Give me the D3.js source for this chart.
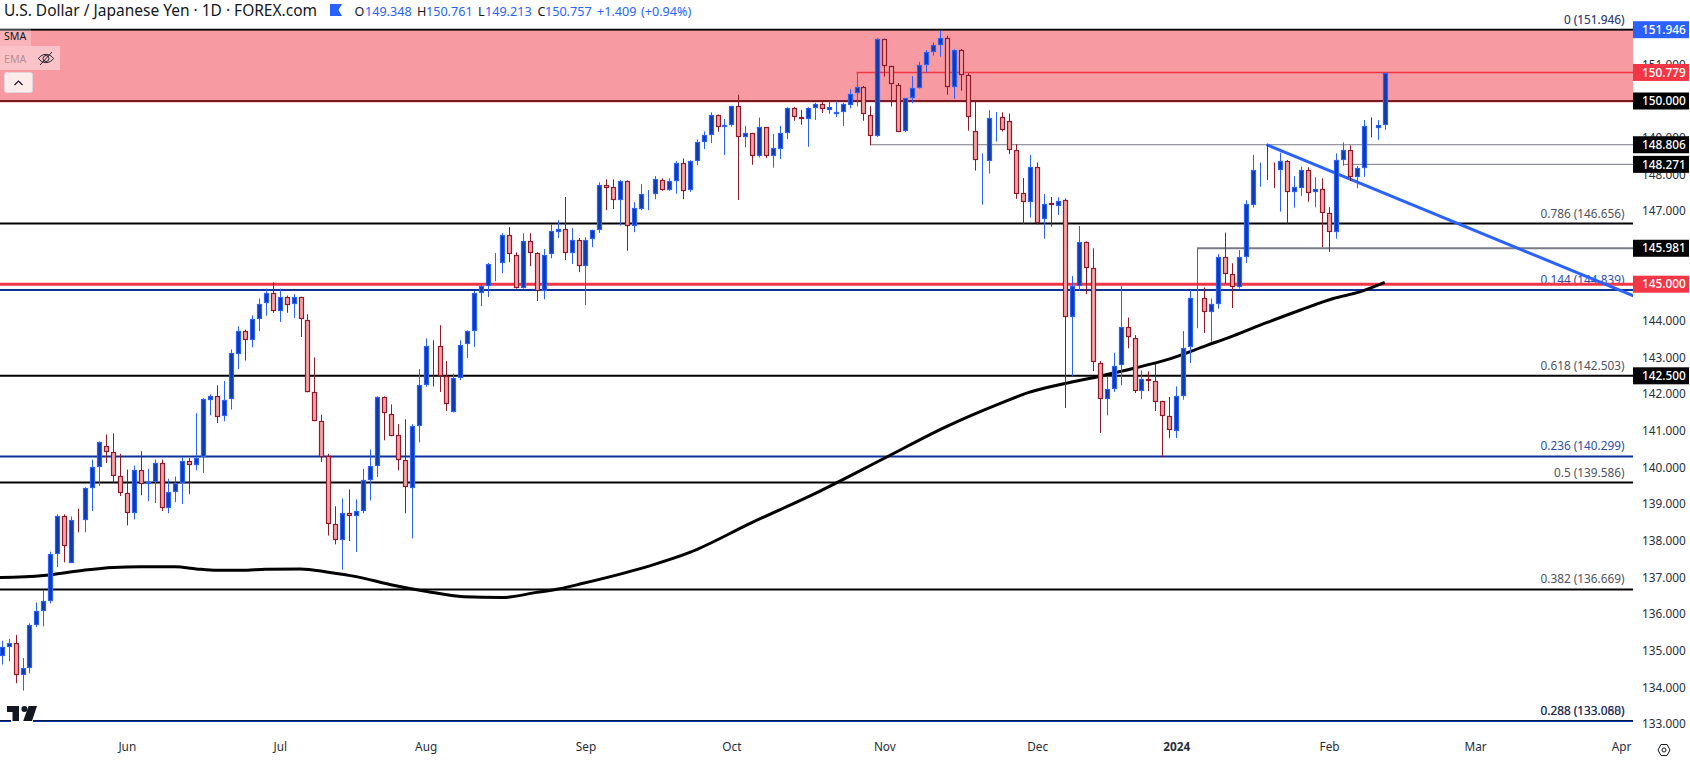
<!DOCTYPE html>
<html>
<head>
<meta charset="utf-8">
<script src="https://cdnjs.cloudflare.com/ajax/libs/d3/7.8.5/d3.min.js"></script>
<style>
body { margin: 0; background: #fff; overflow: hidden; }
text { font-family: "Noto Sans", sans-serif; }
</style>
</head>
<body>
<div id="chart-container"></div>
<script>
// daily bars, open high low close
var bars = [
[134.84,135.27,134.62,135.09],[135.09,135.32,134.71,135.21],[135.21,135.43,134.11,134.34],[134.34,134.80,133.91,134.53],[134.52,135.74,134.38,135.70],
[135.70,136.31,135.64,136.07],[136.08,136.66,135.66,136.35],[136.36,137.70,136.29,137.64],[137.64,138.72,137.28,138.68],[138.68,138.72,137.41,137.86],
[137.40,138.66,137.40,138.57],[138.58,138.87,138.23,138.56],[138.57,139.46,138.23,139.44],[139.44,140.21,138.81,140.02],[140.02,140.71,139.49,140.69],
[140.59,140.90,140.12,140.43],[140.43,140.93,139.57,139.77],[139.77,140.37,139.22,139.31],[139.31,139.94,138.42,138.76],[138.76,140.05,138.58,139.94],
[139.94,140.44,139.24,139.55],[139.55,139.96,139.08,139.61],[139.60,140.21,139.03,140.13],[140.13,140.21,138.81,138.89],[138.90,139.69,138.75,139.34],
[139.34,139.75,139.05,139.58],[139.58,140.28,139.00,140.18],[140.18,140.26,139.27,140.07],[140.07,141.48,139.92,140.26],[140.27,141.89,139.85,141.86],
[141.84,141.99,141.42,141.96],[141.96,142.24,141.21,141.40],[141.40,142.36,141.26,141.85],[141.85,143.22,141.58,143.11],[143.10,143.85,142.68,143.73],
[143.73,143.76,142.92,143.49],[143.48,144.15,143.28,144.06],[144.05,144.61,143.72,144.47],[144.47,144.88,144.14,144.75],[144.75,145.05,144.22,144.27],
[144.27,144.88,143.97,144.66],[144.66,144.69,144.22,144.44],[144.44,144.73,144.08,144.64],[144.64,144.66,143.56,144.03],[144.03,144.18,142.05,142.07],
[142.07,143.00,141.26,141.28],[141.28,141.44,140.15,140.31],[140.31,140.37,138.14,138.46],[138.46,138.94,137.90,138.02],[138.02,139.15,137.21,138.76],
[138.76,139.40,137.99,138.67],[138.67,139.13,137.69,138.81],[138.81,139.96,138.75,139.66],[139.66,140.49,139.10,140.05],[140.05,141.94,139.74,141.92],
[141.92,141.94,140.74,141.47],[141.47,141.72,140.85,140.88],[140.88,141.18,139.92,140.21],[140.21,141.31,138.75,139.46],[139.46,141.18,138.06,141.14],
[141.14,142.68,140.68,142.25],[142.25,143.52,142.20,143.32],[143.33,143.47,142.21,143.31],[143.30,143.88,142.06,142.49],[142.49,142.90,141.54,141.73],
[141.52,142.56,141.50,142.45],[142.45,143.47,142.38,143.35],[143.35,143.74,142.99,143.71],[143.71,144.82,143.29,144.75],[144.74,145.00,144.40,144.94],
[144.93,145.58,144.65,145.54],[145.55,145.85,145.08,145.58],[145.57,146.39,145.30,146.33],[146.33,146.56,145.60,145.80],[145.80,145.87,144.88,144.90],
[144.90,146.39,144.88,146.19],[146.19,146.39,145.49,145.86],[145.86,145.87,144.54,144.83],[144.83,145.96,144.59,145.81],[145.81,146.64,145.71,146.44],
[146.43,146.75,146.26,146.52],[146.52,147.38,145.66,145.86],[145.86,146.53,145.55,146.22],[146.22,146.26,145.33,145.50],[145.50,146.28,144.43,146.22],
[146.22,146.49,146.01,146.47],[146.46,147.78,146.40,147.70],[147.70,147.86,147.02,147.63],[147.64,147.86,147.05,147.29],[147.28,147.84,146.60,147.81],
[147.81,147.83,145.91,146.57],[146.57,147.24,146.42,147.07],[147.05,147.73,147.02,147.45],[147.45,147.57,147.02,147.46],[147.44,147.95,147.32,147.86],
[147.84,147.89,147.55,147.58],[147.58,147.89,147.55,147.83],[147.82,148.36,147.47,148.32],[148.32,148.43,147.32,147.55],[147.55,148.38,147.52,148.35],
[148.34,148.95,148.25,148.87],[148.86,149.17,148.69,149.06],[149.06,149.69,148.85,149.61],[149.61,149.63,149.16,149.28],[149.28,149.51,148.53,149.34],
[149.33,149.87,149.30,149.85],[149.85,150.17,147.30,149.00],[149.00,149.32,148.74,149.12],[149.12,149.13,148.26,148.48],[148.48,149.55,148.46,149.28],
[149.28,149.29,148.44,148.48],[148.48,149.10,148.18,148.71],[148.70,149.32,148.42,149.14],[149.13,149.83,148.96,149.80],[149.80,149.84,149.46,149.55],
[149.55,149.76,149.35,149.49],[149.49,149.83,148.75,149.80],[149.80,149.95,149.48,149.91],[149.91,149.97,149.67,149.76],[149.76,149.99,149.65,149.83],
[149.63,149.99,149.56,149.69],[149.69,149.95,149.32,149.91],[149.91,150.32,149.80,150.20],[150.20,150.78,149.85,150.37],[150.37,150.41,149.46,149.63],
[149.63,149.86,148.79,149.06],[149.04,151.72,149.02,151.69],[151.69,151.70,150.67,150.95],[150.95,150.96,149.85,150.45],[150.45,150.49,149.15,149.17],
[149.17,150.08,149.15,150.07],[150.07,150.68,149.94,150.35],[150.35,151.07,150.34,150.98],[150.98,151.39,150.78,151.33],[151.33,151.60,151.24,151.52],
[151.52,151.92,151.21,151.71],[151.71,151.78,150.17,150.37],[150.37,151.41,150.06,151.39],[151.39,151.42,150.28,150.72],[150.72,150.76,149.19,149.57],
[149.17,149.98,148.10,148.37],[148.36,148.57,147.17,148.38],[148.37,149.75,148.02,149.53],[149.54,149.70,148.89,149.56],[149.55,149.69,149.17,149.19],
[149.45,149.66,148.55,148.67],[148.67,148.82,147.33,147.48],[147.48,147.90,146.65,147.23],[147.23,148.53,146.82,148.19],[148.19,148.32,146.63,146.65],
[146.79,147.46,146.24,147.20],[147.21,147.38,146.57,147.15],[147.15,147.37,146.89,147.28],[147.29,147.34,141.62,144.11],[144.11,145.22,142.49,144.95],
[144.94,146.59,144.82,146.14],[146.14,146.17,144.73,145.42],[145.43,145.98,142.63,142.86],[142.86,142.90,140.94,141.88],[141.88,142.47,141.42,142.15],
[142.15,143.13,142.06,142.78],[142.78,144.95,142.24,143.82],[143.82,144.09,143.25,143.54],[143.54,143.61,142.03,142.10],[142.10,142.65,141.86,142.42],
[142.42,142.62,142.08,142.37],[142.37,142.83,141.54,141.80],[141.80,141.82,140.28,141.39],[141.39,141.92,140.80,141.00],[141.00,142.21,140.80,141.96],
[141.96,143.72,141.85,143.27],[143.27,144.84,142.85,144.61],[144.60,145.98,143.80,144.62],[144.61,144.91,143.67,144.23],[144.23,144.61,143.43,144.45],
[144.45,145.82,144.33,145.73],[145.73,146.41,145.02,145.27],[145.27,145.57,144.35,144.91],[144.91,145.93,144.88,145.73],[145.73,147.29,145.58,147.18],
[147.18,148.53,147.09,148.13],[148.12,148.32,147.66,148.14],[148.14,148.81,147.84,148.12],[148.14,148.32,147.62,148.12],[148.10,148.59,146.98,148.35],
[148.35,148.39,146.66,147.51],[147.51,147.95,147.09,147.64],[147.64,148.21,147.41,148.13],[148.13,148.19,147.25,147.50],[147.50,147.92,147.10,147.59],
[147.59,147.89,146.01,146.93],[146.93,147.10,145.88,146.41],[146.41,148.57,146.24,148.38],[148.38,148.87,148.23,148.65],[148.65,148.79,147.82,147.91],
[147.91,148.23,147.62,148.16],[148.16,149.48,147.93,149.31],[149.32,149.55,149.01,149.30],[149.28,149.48,148.94,149.35],[149.348,150.761,149.213,150.757]
];

var sma = [
[-1,136.99],[6,137.05],[7.4,137.08],[12,137.20],[16,137.27],[20,137.29],[25,137.29],[28,137.23],[31,137.19],[34.5,137.19],[38,137.22],[43,137.23],[47,137.14],
[51,137.02],[56,136.80],[61,136.62],[66.5,136.47],[72,136.45],[77,136.59],[80.3,136.69],[83.5,136.83],[93,137.30],[99,137.68],[108,138.50],[117.6,139.34],[127,140.25],[136,141.12],
[143.6,141.74],[147.7,142.04],[153,142.29],[158,142.49],[162.8,142.70],[167.7,142.94],[173.4,143.33],[177.2,143.59],[182,143.95],[186.8,144.29],[191.6,144.61],[195.4,144.79],[199,145.05]
];

var months = {18:"Jun",40:"Jul",61:"Aug",84:"Sep",105:"Oct",127:"Nov",149:"Dec",169:"2024",191:"Feb",212:"Mar",233:"Apr"};

// price, from bar, colour, width
var levels = [
{p:151.946,from:-3,c:"#000",w:2},
{p:150,from:-3,c:"#000",w:2},
{p:146.656,from:-3,c:"#000",w:2},
{p:142.5,from:-3,c:"#000",w:2},
{p:139.586,from:-3,c:"#000",w:2},
{p:136.669,from:-3,c:"#000",w:2},
{p:133.08,from:-3,c:"#000",w:2},
{p:133.07,from:-3,c:"#0c3299",w:1.5},
{p:144.839,from:-3,c:"#0c3299",w:2},
{p:140.299,from:-3,c:"#0c3299",w:2},
{p:150.779,from:123,c:"#f23645",w:1.5},
{p:148.806,from:125,c:"#787b86",w:1},
{p:148.271,from:193,c:"#787b86",w:1},
{p:145.981,from:172,c:"#787b86",w:2},
{p:145,from:-3,c:"#f23645",w:3}
];

var fibs = [
{t:"0 (151.946)",p:151.946,c:"#50535e"},
{t:"0 (151.946)",p:151.946,c:"#0c3299",o:0.5},
{t:"0.786 (146.656)",p:146.656,c:"#50535e"},
{t:"0.144 (144.839)",p:144.839,c:"#2d4fa8"},
{t:"0.618 (142.503)",p:142.503,c:"#50535e"},
{t:"0.236 (140.299)",p:140.299,c:"#2d4fa8"},
{t:"0.5 (139.586)",p:139.586,c:"#50535e"},
{t:"0.382 (136.669)",p:136.669,c:"#50535e"},
{t:"0.288 (133.088)",p:133.08,c:"#2d4fa8"},
{t:"0.288 (133.060)",p:133.08,c:"#1e222d",o:0.8}
];

var badges = [
{p:151.946,c:"#2962ff"},{p:150.779,c:"#f23645"},{p:150,c:"#000"},{p:148.806,c:"#000"},
{p:148.271,c:"#000"},{p:145.981,c:"#000"},{p:145,c:"#f23645"},{p:142.5,c:"#000"}
];

var width = 1690, height = 761, plotRight = 1633, plotBottom = 737;

var svg = d3.select("#chart-container").append("svg")
    .attr("width", width)
    .attr("height", height)
    .style("display", "block");

var x = d3.scaleLinear().domain([0, 233]).range([1.7, 1621]);
var y = d3.scaleLinear().domain([150, 133]).range([101, 723.9]);

svg.append("clipPath").attr("id", "plot")
    .append("rect").attr("width", plotRight).attr("height", plotBottom);
var plot = svg.append("g").attr("clip-path", "url(#plot)");

// fib labels go under the lines
plot.selectAll(".fib").data(fibs).enter().append("text")
    .attr("x", 1624.5)
    .attr("y", d => y(d.p) - 6)
    .attr("text-anchor", "end")
    .attr("font-size", 11.8)
    .attr("fill", d => d.c)
    .attr("opacity", d => d.o || 1)
    .text(d => d.t);

plot.selectAll(".level").data(levels).enter().append("line")
    .attr("x1", d => x(d.from))
    .attr("x2", plotRight)
    .attr("y1", d => y(d.p))
    .attr("y2", d => y(d.p))
    .attr("stroke", d => d.c)
    .attr("stroke-width", d => d.w);

// resistance zone sits on top of the black 150 line
plot.append("rect")
    .attr("x", 0)
    .attr("width", plotRight)
    .attr("y", y(151.92))
    .attr("height", y(149.96) - y(151.92))
    .attr("fill", "#f23645")
    .attr("opacity", 0.5);

var line = d3.line().x(d => x(d[0])).y(d => y(d[1])).curve(d3.curveMonotoneX);
plot.append("path").datum(sma)
    .attr("d", line)
    .attr("fill", "none")
    .attr("stroke", "#000")
    .attr("stroke-width", 3);

plot.append("path").datum([[182, 148.81], [234.8, 144.68]])
    .attr("d", d3.line().x(d => x(d[0])).y(d => y(d[1])))
    .attr("stroke", "#2962ff")
    .attr("stroke-width", 3);

// candles
var candle = plot.selectAll(".candle").data(bars).enter().append("g")
    .attr("transform", (d, i) => "translate(" + Math.round(x(i)) + ",0)");

candle.append("line")
    .attr("x1", 0.5).attr("x2", 0.5)
    .attr("y1", d => y(d[1]))
    .attr("y2", d => y(d[2]))
    .attr("stroke", d => d[3] >= d[0] ? "#2962ff" : "#8e1a2a");

candle.append("rect")
    .attr("x", -1.5)
    .attr("width", 4)
    .attr("y", d => Math.round(y(Math.max(d[0], d[3]))) + 0.5)
    .attr("height", d => Math.max(0, Math.round(Math.abs(y(d[0]) - y(d[3])) - 1)))
    .attr("fill", d => d[3] >= d[0] ? "#0f3bab" : "#f7a1a5")
    .attr("stroke", d => d[3] >= d[0] ? "#2962ff" : "#8e1a2a")
    .attr("stroke-width", 1.2);

// logo punches a gap in the bottom line
var logo = plot.append("g");
logo.append("rect").attr("x", 11).attr("y", 704).attr("width", 22).attr("height", 19).attr("fill", "#fff");
logo.append("path").attr("d", "M7 706H19V721H12.5V712H7Z").attr("fill", "#131722");
logo.append("circle").attr("cx", 24.4).attr("cy", 709).attr("r", 3).attr("fill", "#131722");
logo.append("path").attr("d", "M28.6 706H37L32 721H23.2Z").attr("fill", "#131722");

// axes
var yAxis = svg.append("g")
    .attr("transform", "translate(" + plotRight + ",0)")
    .call(d3.axisRight(y).tickValues(d3.range(133, 152)).tickSize(0).tickPadding(9).tickFormat(d3.format(".3f")));
yAxis.select(".domain").remove();
yAxis.selectAll("text").attr("font-size", 11.8).attr("fill", "#2a2e39").style("font-family", "'Noto Sans', sans-serif");

var xAxis = svg.append("g")
    .attr("transform", "translate(0," + plotBottom + ")")
    .call(d3.axisBottom(x).tickValues(Object.keys(months).map(Number)).tickSize(0).tickPadding(6).tickFormat(d => months[d]));
xAxis.select(".domain").remove();
xAxis.selectAll("text")
    .attr("font-size", 11.8)
    .attr("fill", "#2a2e39")
    .attr("font-weight", d => d == 169 ? 700 : 400)
    .style("font-family", "'Noto Sans', sans-serif");

var badge = svg.selectAll(".badge").data(badges).enter().append("g")
    .attr("transform", d => "translate(" + plotRight + "," + y(d.p) + ")");
badge.append("rect")
    .attr("x", 0).attr("y", -8.5).attr("width", 56).attr("height", 17)
    .attr("fill", d => d.c);
badge.append("text")
    .attr("x", 9).attr("y", 4.2)
    .attr("font-size", 11.8)
    .attr("font-weight", 500)
    .attr("fill", "#fff")
    .text(d => d.p.toFixed(3));

// header
var header = [
{t:"U.S. Dollar / Japanese Yen · 1D · FOREX.com",x:4,c:"#131722",s:15.5},
{t:"O",x:354.5,c:"#131722",s:12.6},{t:"149.348",x:365,c:"#2962ff",s:12.6},
{t:"H",x:417,c:"#131722",s:12.6},{t:"150.761",x:426,c:"#2962ff",s:12.6},
{t:"L",x:478,c:"#131722",s:12.6},{t:"149.213",x:485,c:"#2962ff",s:12.6},
{t:"C",x:537.5,c:"#131722",s:12.6},{t:"150.757",x:545,c:"#2962ff",s:12.6},
{t:"+1.409",x:597,c:"#2962ff",s:12.6},{t:"(+0.94%)",x:641,c:"#2962ff",s:12.6}
];
svg.selectAll(".head").data(header).enter().append("text")
    .attr("x", d => d.x).attr("y", 15.5)
    .attr("font-size", d => d.s)
    .attr("fill", d => d.c)
    .text(d => d.t);
svg.append("path").attr("d", "M330 4H342L338.5 10L342 16H330Z").attr("fill", "#2962ff");

// indicator legend
svg.append("rect").attr("x", 0).attr("y", 29).attr("width", 31).attr("height", 17).attr("fill", "#fff").attr("opacity", 0.25);
svg.append("text").attr("x", 4).attr("y", 40).attr("font-size", 10.6).attr("fill", "#131722").text("SMA");
svg.append("rect").attr("x", 0).attr("y", 46).attr("width", 60).attr("height", 24).attr("fill", "#fff").attr("opacity", 0.4);
svg.append("text").attr("x", 4).attr("y", 63).attr("font-size", 10.6).attr("fill", "#131722").attr("opacity", 0.3).text("EMA");
var eye = svg.append("g").attr("fill", "none").attr("stroke", "#131722").attr("stroke-width", 0.9);
eye.append("path").attr("d", "M38.5 58.5C42 53 50 53 53.5 58.5C50 64 42 64 38.5 58.5Z");
eye.append("circle").attr("cx", 46).attr("cy", 58.5).attr("r", 3);
eye.append("path").attr("d", "M40 65L52 52");
svg.append("rect").attr("x", 4.5).attr("y", 72.5).attr("width", 28).attr("height", 20).attr("rx", 2)
    .attr("fill", "#fff").attr("fill-opacity", 0.8).attr("stroke", "#e0d6da");
svg.append("path").attr("d", "M14.5 85L18.5 81L22.5 85").attr("fill", "none").attr("stroke", "#131722").attr("stroke-width", 1.2);

// settings gear
svg.append("path").attr("d", "M1658 750L1661 744.5H1667L1670 750L1667 755.5H1661Z").attr("fill", "none").attr("stroke", "#131722");
svg.append("circle").attr("cx", 1664).attr("cy", 750).attr("r", 2).attr("fill", "none").attr("stroke", "#131722");
</script>
</body>
</html>
